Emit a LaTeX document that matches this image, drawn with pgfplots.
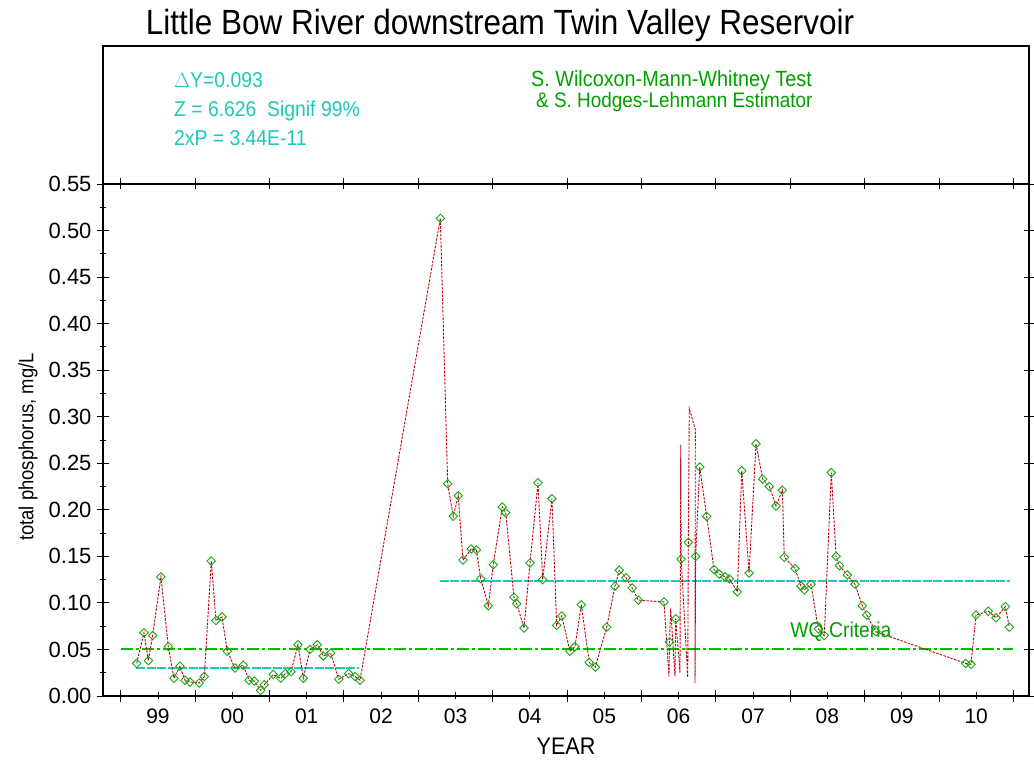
\documentclass[border=0pt]{standalone}
\usepackage{pgfplots}
\pgfplotsset{compat=1.18}
\usepackage{pgfplotstable}
\usepackage{fontspec}
\setmainfont{Liberation Sans}[FakeStretch=0.9]
\newfontfamily\tickfont{Liberation Sans}

\definecolor{tpred}{RGB}{190,0,10}
\definecolor{tpgreen}{RGB}{20,170,20}
\definecolor{medcyan}{RGB}{30,200,185}
\definecolor{txtgreen}{RGB}{0,160,0}
\definecolor{wqgreen}{RGB}{0,190,0}

% sampled total phosphorus (mg/L) against decimal year
\pgfplotstableread{
year     tp
1999.214 0.035
1999.312 0.068
1999.370 0.038
1999.429 0.065
1999.540 0.128
1999.639 0.053
1999.715 0.019
1999.796 0.032
1999.863 0.017
1999.930 0.015
2000.055 0.014
2000.123 0.021
2000.217 0.145
2000.280 0.081
2000.361 0.085
2000.432 0.048
2000.535 0.030
2000.647 0.033
2000.724 0.017
2000.795 0.016
2000.881 0.006
2000.929 0.012
2001.050 0.023
2001.150 0.019
2001.212 0.024
2001.288 0.026
2001.382 0.055
2001.454 0.019
2001.544 0.050
2001.642 0.055
2001.723 0.043
2001.822 0.046
2001.930 0.018
2002.064 0.024
2002.149 0.021
2002.216 0.017
2003.296 0.513
2003.395 0.228
2003.470 0.193
2003.537 0.215
2003.601 0.146
2003.712 0.158
2003.780 0.157
2003.839 0.126
2003.941 0.097
2004.008 0.141
2004.129 0.203
2004.175 0.197
2004.286 0.106
2004.323 0.099
2004.421 0.073
2004.502 0.143
2004.609 0.229
2004.672 0.125
2004.797 0.212
2004.860 0.076
2004.928 0.086
2005.039 0.048
2005.106 0.053
2005.191 0.098
2005.299 0.036
2005.379 0.031
2005.533 0.074
2005.644 0.118
2005.702 0.135
2005.792 0.127
2005.877 0.116
2005.957 0.103
2006.303 0.101
2006.377 0.058
2006.460 0.083
2006.534 0.147
2006.630 0.165
2006.728 0.150
2006.783 0.246
2006.877 0.193
2006.975 0.136
2007.047 0.131
2007.123 0.128
2007.181 0.126
2007.289 0.112
2007.348 0.242
2007.446 0.132
2007.540 0.271
2007.630 0.233
2007.719 0.225
2007.809 0.204
2007.894 0.221
2007.920 0.149
2008.064 0.137
2008.145 0.118
2008.189 0.114
2008.279 0.120
2008.378 0.072
2008.458 0.065
2008.552 0.240
2008.616 0.150
2008.660 0.140
2008.768 0.130
2008.871 0.120
2008.969 0.097
2009.028 0.087
2009.153 0.069
2010.359 0.035
2010.430 0.034
2010.498 0.087
2010.663 0.091
2010.767 0.084
2010.892 0.096
2010.945 0.074
}\tpsamples

% connecting trace, including the unmarked 2006 excursions
\pgfplotstableread{
year     tp
1999.214 0.035
1999.312 0.068
1999.370 0.038
1999.429 0.065
1999.540 0.128
1999.639 0.053
1999.715 0.019
1999.796 0.032
1999.863 0.017
1999.930 0.015
2000.055 0.014
2000.123 0.021
2000.217 0.145
2000.280 0.081
2000.361 0.085
2000.432 0.048
2000.535 0.030
2000.647 0.033
2000.724 0.017
2000.795 0.016
2000.881 0.006
2000.929 0.012
2001.050 0.023
2001.150 0.019
2001.212 0.024
2001.288 0.026
2001.382 0.055
2001.454 0.019
2001.544 0.050
2001.642 0.055
2001.723 0.043
2001.822 0.046
2001.930 0.018
2002.064 0.024
2002.149 0.021
2002.216 0.017
2003.296 0.513
2003.395 0.228
2003.470 0.193
2003.537 0.215
2003.601 0.146
2003.712 0.158
2003.780 0.157
2003.839 0.126
2003.941 0.097
2004.008 0.141
2004.129 0.203
2004.175 0.197
2004.286 0.106
2004.323 0.099
2004.421 0.073
2004.502 0.143
2004.609 0.229
2004.672 0.125
2004.797 0.212
2004.860 0.076
2004.928 0.086
2005.039 0.048
2005.106 0.053
2005.191 0.098
2005.299 0.036
2005.379 0.031
2005.533 0.074
2005.644 0.118
2005.702 0.135
2005.792 0.127
2005.877 0.116
2005.957 0.103
2006.303 0.101
2006.370 0.021
2006.377 0.058
2006.393 0.094
2006.451 0.021
2006.460 0.083
2006.518 0.025
2006.528 0.270
2006.534 0.147
2006.622 0.020
2006.630 0.165
2006.643 0.309
2006.724 0.286
2006.720 0.014
2006.728 0.150
2006.783 0.246
2006.877 0.193
2006.975 0.136
2007.047 0.131
2007.123 0.128
2007.181 0.126
2007.289 0.112
2007.348 0.242
2007.446 0.132
2007.540 0.271
2007.630 0.233
2007.719 0.225
2007.809 0.204
2007.894 0.221
2007.920 0.149
2008.064 0.137
2008.145 0.118
2008.189 0.114
2008.279 0.120
2008.378 0.072
2008.458 0.065
2008.552 0.240
2008.616 0.150
2008.660 0.140
2008.768 0.130
2008.871 0.120
2008.969 0.097
2009.028 0.087
2009.153 0.069
2010.359 0.035
2010.430 0.034
2010.498 0.087
2010.663 0.091
2010.767 0.084
2010.892 0.096
2010.945 0.074
}\tptrace

% reference levels: period medians and the water-quality criterion
\pgfplotstableread{
year     med1   med2   wq
1998.900 nan    nan    nan
1999.000 nan    nan    0.050
1999.206 0.030  nan    0.050
2002.203 0.030  nan    0.050
2003.290 nan    0.123  0.050
2010.955 nan    0.123  0.050
2011.000 nan    nan    0.050
2011.100 nan    nan    nan
}\reflevels

\begin{document}
\begin{tikzpicture}[x=1pt,y=1pt]
\path (0,0) rectangle (1034,763);

% title
\node[anchor=base, inner sep=0pt] at (500,728)
  {\fontsize{35}{40}\selectfont Little Bow River downstream Twin Valley Reservoir};

% statistics panel above the plot
\draw[line width=1.2pt] (103,579) rectangle (1029,717);
\begin{scope}[every node/.style={anchor=base west, inner sep=0pt}]
  \node[text=medcyan] at (174,675) {\fontsize{21.5}{24}\selectfont $\Delta$Y=0.093};
  \node[text=medcyan] at (174,646) {\fontsize{21.5}{24}\selectfont Z = 6.626\ \ Signif 99\%};
  \node[text=medcyan] at (174,617) {\fontsize{21.5}{24}\selectfont 2xP = 3.44E-11};
  \node[text=txtgreen] at (531,676) {\fontsize{22}{24}\selectfont S. Wilcoxon-Mann-Whitney Test};
  \node[text=txtgreen] at (536,655) {\fontsize{21}{24}\selectfont \& S. Hodges-Lehmann Estimator};
\end{scope}

% axis titles
\node[rotate=90] at (28,316) {\fontsize{20.5}{24}\selectfont total phosphorus, mg/L};
\node at (566,17) {\fontsize{24}{28}\selectfont YEAR};

\begin{axis}[
  at={(103pt,67pt)}, anchor=south west,
  scale only axis, width=926pt, height=512pt,
  xmin=1998.761, xmax=2011.21, ymin=0, ymax=0.55,
  axis line style={line width=1.2pt},
  tick style={black, line width=0.9pt},
  tick align=center,
  major tick length=12pt,
  minor tick length=6pt,
  xtick pos=bottom, ytick pos=left,
  xtick={1999,2000,2001,2002,2003,2004,2005,2006,2007,2008,2009,2010,2011},
  xticklabels={},
  extra x ticks={1999.5,2000.5,2001.5,2002.5,2003.5,2004.5,2005.5,2006.5,2007.5,2008.5,2009.5,2010.5},
  extra x tick labels={99,00,01,02,03,04,05,06,07,08,09,10},
  extra x tick style={major tick length=7pt, xticklabel style={yshift=-6pt}},
  xticklabel style={font=\tickfont\fontsize{21}{24}\selectfont},
  ytick={0,0.05,0.10,0.15,0.20,0.25,0.30,0.35,0.40,0.45,0.50,0.55},
  yticklabels={0.00,0.05,0.10,0.15,0.20,0.25,0.30,0.35,0.40,0.45,0.50,0.55},
  minor ytick={0.025,0.075,0.125,0.175,0.225,0.275,0.325,0.375,0.425,0.475,0.525},
  yticklabel style={font=\tickfont\fontsize{22}{24}\selectfont, xshift=-2pt},
  unbounded coords=jump,
  clip=false,
]
% water-quality criterion
\addplot[color=wqgreen, line width=2pt, mark=none,
  dash pattern=on 12pt off 3pt on 3pt off 3pt]
  table[x=year, y=wq] {\reflevels};
% period medians (Hodges-Lehmann shift 0.093)
\addplot[color=medcyan, line width=2pt, mark=none, dash pattern=on 9pt off 1.5pt]
  table[x=year, y=med2] {\reflevels};
\addplot[color=medcyan, line width=2pt, mark=none, dash pattern=on 9pt off 1.5pt]
  table[x=year, y=med1] {\reflevels};
% sample trace and sample markers
\addplot[color=tpred, line width=0.9pt, dash pattern=on 2.5pt off 1.3pt, mark=none]
  table[x=year, y=tp] {\tptrace};
\addplot[only marks, mark=square, mark size=3pt,
  mark options={rotate=45, draw=tpgreen, line width=0.9pt, solid, fill=none}]
  table[x=year, y=tp] {\tpsamples};
\node[anchor=base west, inner sep=0pt, text=txtgreen]
  at (axis cs:2008.0,0.063) {\fontsize{21.5}{24}\selectfont WQ Criteria};
\end{axis}

% top and right ticks of the plot frame
\begin{axis}[
  at={(103pt,67pt)}, anchor=south west,
  scale only axis, width=926pt, height=512pt,
  xmin=1998.761, xmax=2011.21, ymin=0, ymax=0.55,
  axis line style={line width=1.2pt},
  tick style={black, line width=0.9pt},
  tick align=center,
  major tick length=11pt,
  xtick pos=top, ytick pos=right,
  xtick={1999,2000,2001,2002,2003,2004,2005,2006,2007,2008,2009,2010,2011},
  ytick={0,0.05,0.10,0.15,0.20,0.25,0.30,0.35,0.40,0.45,0.50,0.55},
  xticklabels={}, yticklabels={},
]
\end{axis}

\pgfresetboundingbox
\path[use as bounding box] (0,0) rectangle (1034,763);
\end{tikzpicture}
\end{document}
